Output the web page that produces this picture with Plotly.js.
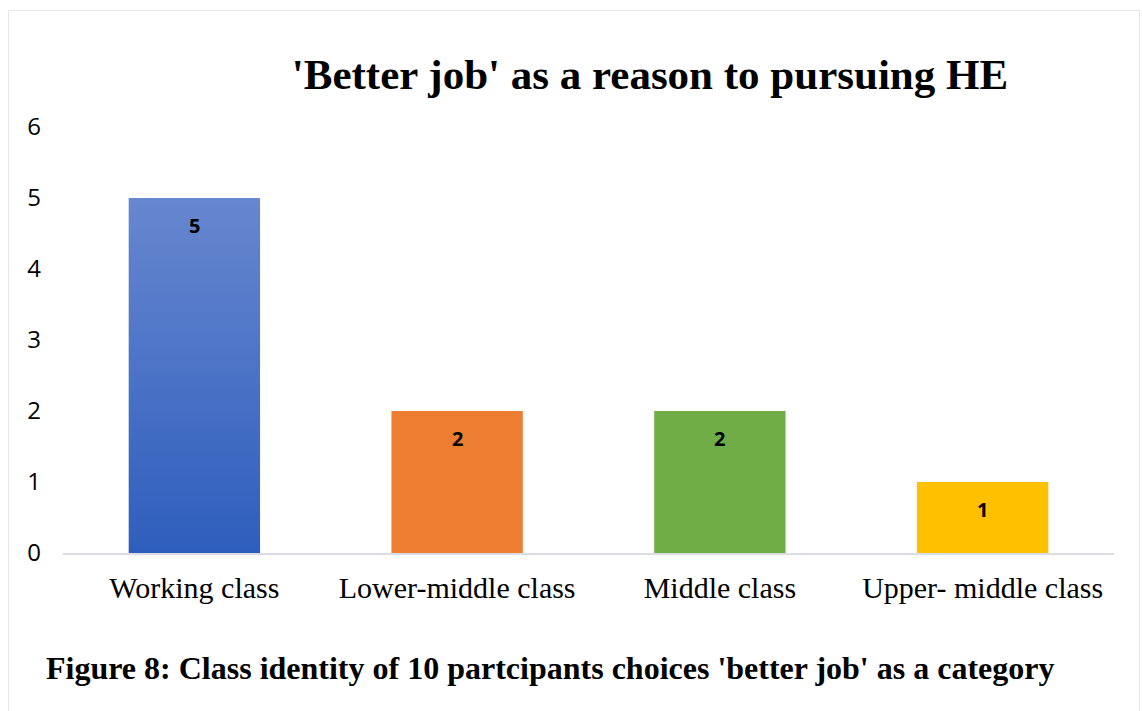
<!DOCTYPE html>
<html>
<head>
<meta charset="utf-8">
<script src="https://cdn.plot.ly/plotly-3.0.1.min.js"></script>
<style>
  html, body { margin: 0; padding: 0; background: #fff; }
  #chart { width: 1142px; height: 711px; position: relative; }
  #frame { position: absolute; left: 8px; top: 10px; width: 1132px; height: 720px;
           border: 1.5px solid #e3e5ea; pointer-events: none; box-sizing: border-box; }
</style>
</head>
<body>
<div id="chart"></div>
<div id="frame"></div>
<script>
const categories = ["Working class", "Lower-middle class", "Middle class", "Upper- middle class"];
const values = [5, 2, 2, 1];
const barColors = ["#4a72c8", "#ED7D31", "#70AD47", "#FFC000"];
const yTicks = [0, 1, 2, 3, 4, 5, 6];
const chartTitle = "'Better job' as a reason to pursuing HE";
const captionText = "Figure 8: Class identity of 10 partcipants choices 'better job' as a category";

const trace = {
  type: "bar",
  x: categories,
  y: values,
  marker: { color: barColors, line: { width: 0 } },
  hoverinfo: "x+y"
};

const labelAnnotations = categories.map((c, i) => ({
  x: c, y: values[i], xref: "x", yref: "y",
  text: String(values[i]),
  showarrow: false, yshift: -27, yanchor: "middle",
  font: { family: "Open Sans, Liberation Sans, sans-serif", size: 20, color: "#000", weight: "bold" }
}));

const layout = {
  width: 1142, height: 711,
  margin: { l: 63, r: 28, t: 127, b: 158 },
  paper_bgcolor: "#ffffff",
  plot_bgcolor: "#ffffff",
  bargap: 0.5,
  showlegend: false,
  title: {
    text: chartTitle,
    font: { family: "Liberation Serif, Times New Roman, serif", size: 43, color: "#000", weight: "bold" },
    x: 650 / 1142, xanchor: "center", xref: "container",
    y: 1 - 74 / 711, yanchor: "middle", yref: "container"
  },
  xaxis: {
    type: "category",
    showgrid: false,
    showline: true, linecolor: "#dadde3", linewidth: 2,
    ticks: "", zeroline: false,
    tickfont: { family: "Liberation Serif, Times New Roman, serif", size: 30, color: "#000" },
    ticklabelstandoff: 7
  },
  yaxis: {
    range: [0, 6],
    tickvals: yTicks,
    showgrid: false, zeroline: false, showline: false,
    ticks: "",
    tickfont: { family: "Open Sans, Liberation Sans, sans-serif", size: 24, color: "#000" },
    ticklabelstandoff: 21
  },
  annotations: labelAnnotations.concat([{
    text: captionText,
    xref: "paper", yref: "paper",
    x: (550 - 63) / 1051, y: (553 - 668) / 426,
    xanchor: "center", yanchor: "middle",
    showarrow: false,
    font: { family: "Liberation Serif, Times New Roman, serif", size: 32, color: "#000", weight: "bold" }
  }])
};

Plotly.newPlot("chart", [trace], layout, { displayModeBar: false, staticPlot: true }).then(function (gd) {
  // vertical gradient for the first bar (as in the original)
  const svg = gd.querySelector("svg.main-svg");
  const ns = "http://www.w3.org/2000/svg";
  let defs = svg.querySelector("defs");
  if (!defs) { defs = document.createElementNS(ns, "defs"); svg.insertBefore(defs, svg.firstChild); }
  const grad = document.createElementNS(ns, "linearGradient");
  grad.setAttribute("id", "blueGrad");
  grad.setAttribute("x1", "0"); grad.setAttribute("y1", "0");
  grad.setAttribute("x2", "0"); grad.setAttribute("y2", "1");
  [["0%", "#6787cf"], ["100%", "#2e5ebd"]].forEach(function (s) {
    const st = document.createElementNS(ns, "stop");
    st.setAttribute("offset", s[0]); st.setAttribute("stop-color", s[1]);
    grad.appendChild(st);
  });
  defs.appendChild(grad);
  const paths = gd.querySelectorAll(".barlayer .point path");
  if (paths.length) paths[0].style.fill = "url(#blueGrad)";
});
</script>
</body>
</html>
